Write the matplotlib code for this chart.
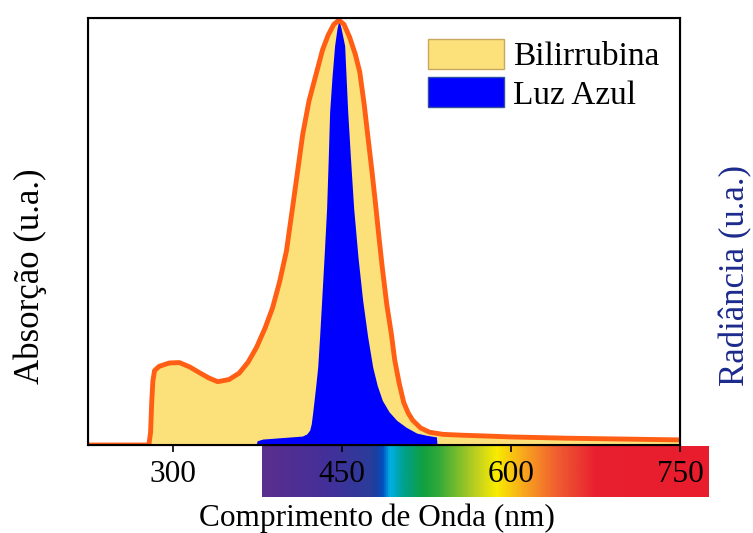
import numpy as np
import matplotlib
matplotlib.use('Agg')
import matplotlib.pyplot as plt
from matplotlib.colors import LinearSegmentedColormap
from matplotlib.patches import Patch

plt.rcParams['font.family'] = ['Liberation Serif', 'DejaVu Serif']

# espectro de absorção da bilirrubina (normalizado)
bili_nm = [225, 279, 280.5, 281.5, 282.5, 284, 288, 297, 306, 315, 324, 332, 340, 350,
           359, 367, 374.5, 382, 388.7, 395, 401, 407, 415.4, 421, 427.8, 433, 438, 443,
           447.5, 452, 457, 462, 466, 470, 473, 477, 480, 483, 486, 490, 494, 497, 501,
           505, 509, 513, 520, 528, 540, 557, 580, 600, 650, 700, 750]
bili_abs = [0.0, 0.0, 0.03, 0.10, 0.15, 0.175, 0.185, 0.193, 0.194, 0.184, 0.170, 0.158,
            0.149, 0.154, 0.169, 0.195, 0.230, 0.275, 0.323, 0.385, 0.457, 0.570, 0.731,
            0.810, 0.878, 0.930, 0.965, 0.990, 1.0, 0.990, 0.960, 0.920, 0.878, 0.800,
            0.731, 0.640, 0.567, 0.490, 0.417, 0.330, 0.262, 0.200, 0.145, 0.100, 0.075,
            0.058, 0.040, 0.030, 0.025, 0.023, 0.021, 0.019, 0.016, 0.014, 0.012]

# radiância da luz azul da fototerapia (normalizada)
luz_nm = [374, 375, 380, 390, 400, 410, 415, 419, 421.6, 423, 424.2, 425.5, 427, 428.7,
          430.5, 432.2, 434.5, 436.6, 438, 439.3, 441.5, 443.7, 445.8, 447.5, 449.5,
          452.6, 455.3, 458, 460.6, 464.5, 468.6, 473, 477.5, 481.5, 486, 492, 498.8,
          507, 516.5, 525, 534, 534.5]
luz_rad = [0.0, 0.010, 0.014, 0.016, 0.018, 0.020, 0.021, 0.026, 0.035, 0.050, 0.075,
           0.105, 0.140, 0.183, 0.260, 0.340, 0.450, 0.557, 0.670, 0.785, 0.870, 0.940,
           0.980, 1.0, 0.980, 0.940, 0.785, 0.665, 0.557, 0.440, 0.340, 0.255, 0.183,
           0.140, 0.105, 0.078, 0.058, 0.042, 0.028, 0.023, 0.019, 0.0]

ticks = [300, 450, 600, 750]

# cores da barra do espectro visível (380 a 780 nm)
spec_nm = [380, 440, 475, 482, 488, 494, 506, 524, 537, 572, 590, 617, 643, 679, 780]
spec_cor = ['#5B2E8E', '#42309A', '#2C3C9A', '#1B3FA0', '#0050C0', '#00B0E8', '#00A090',
            '#10A040', '#30A83A', '#C0D020', '#F8EC00', '#F8A020', '#F06030', '#E82030',
            '#E81C2C']

fig = plt.figure(figsize=(7.53, 5.33), dpi=100)

# barra colorida abaixo do eixo
bar = fig.add_axes([262 / 753, 36 / 533, 447 / 753, 51 / 533])
pos = [(v - spec_nm[0]) / (spec_nm[-1] - spec_nm[0]) for v in spec_nm]
cmap = LinearSegmentedColormap.from_list('espectro', list(zip(pos, spec_cor)))
bar.imshow(np.linspace(0, 1, 512)[None, :], aspect='auto', cmap=cmap,
           extent=[spec_nm[0], spec_nm[-1], 0, 1])
bar.axis('off')

ax = fig.add_axes([88 / 753, 88 / 533, 592 / 753, 427 / 533])
ax.patch.set_alpha(0)
ax.fill_between(bili_nm, bili_abs, color='#FCE079', lw=0)
ax.fill_between(luz_nm, luz_rad, color='#0000FF', lw=0)
ax.plot(bili_nm, bili_abs, color='#FF5E14', lw=3.5, solid_joinstyle='round')

ax.set_xlim(225, 750)
ax.set_ylim(0, 1.005)
ax.set_xticks(ticks)
ax.set_yticks([])
ax.tick_params(axis='x', direction='out', length=5, width=1.2, labelsize=22.5, pad=6)
for s in ax.spines.values():
    s.set_linewidth(1.5)
ax.set_xlabel('Comprimento de Onda (nm)', fontsize=22.5)
ax.xaxis.set_label_coords(0.488, -0.137)
ax.set_ylabel('Absorção (u.a.)', fontsize=25)
ax.yaxis.set_label_coords(-0.069, 0.396)

ax2 = ax.twinx()
ax2.set_yticks([])
ax2.set_ylabel('Radiância (u.a.)', fontsize=25, color='#1B2A8C')
ax2.yaxis.set_label_coords(1.066, 0.398)

handles = [Patch(facecolor='#FCE079', edgecolor='#C8A860', label='Bilirrubina'),
           Patch(facecolor='#0000FF', edgecolor='#3050A0', label='Luz Azul')]
ax.legend(handles=handles, loc='upper left', bbox_to_anchor=(0.574, 0.951),
          frameon=False, fontsize=24, handlelength=2.3, handleheight=1.0,
          handletextpad=0.27, labelspacing=0.15, borderpad=0, borderaxespad=0)

fig.savefig('out.png', dpi=100)
